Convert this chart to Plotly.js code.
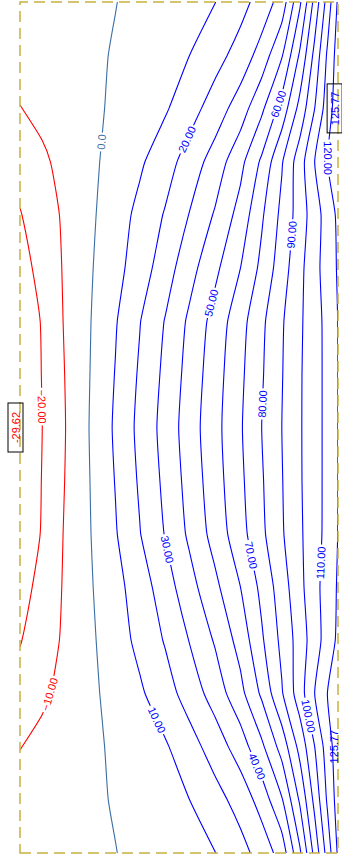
<!DOCTYPE html>
<html>
<head>
<meta charset="utf-8">
<script src="https://cdn.plot.ly/plotly-3.0.1.min.js"></script>
<style>html,body{margin:0;padding:0;background:#fff;}#chart{width:342px;height:858px;}</style>
</head>
<body>
<div id="chart"></div>
<script>
// Slab grid coordinates (m)
var xCoords = [0, 0.21, 0.43, 0.66, 0.9, 1.13, 1.37, 1.6, 1.84, 2.08, 2.28, 2.47, 2.64, 2.78, 2.9, 3.0];
var yCoords = [0, 0.5, 1, 1.5, 2, 2.5, 3, 3.5, 4, 4.5, 5, 5.5, 6, 6.5, 7, 7.5, 8];

// Field values
var row0 = [-7.5, -5.8, -3.9, -2.1, -0.2, 2.3, 4.8, 7.3, 9.8, 16.6, 24.0, 34.2, 58.3, 83.3, 104, 121.5];
var row1 = [-8.5, -6.4, -4.1, -1.8, 0.7, 3.8, 6.9, 10.0, 16.3, 24.0, 34.1, 49.1, 71.4, 92.9, 111.4, 124.5];
var row2 = [-10.1, -7.4, -4.7, -1.9, 1.4, 5.2, 8.9, 16.0, 24.6, 35.0, 48.0, 64.0, 83.3, 100.0, 115.0, 125.77];
var row3 = [-16.5, -11.7, -6.8, -2.0, 3.2, 8.5, 15.8, 24.4, 34.3, 47.1, 61.7, 79.1, 95.5, 110.0, 120.0, 125.0];
var row4 = [-20.5, -14.7, -8.3, -1.7, 5.3, 12.6, 20.8, 30.4, 41.0, 53.8, 68.6, 82.5, 94.6, 105.7, 114.3, 122.0];
var row5 = [-24.0, -16.7, -8.7, -1.0, 6.9, 14.8, 25.4, 36.4, 47.7, 60.0, 72.5, 85.3, 97.3, 106.9, 114.4, 121.0];
var row6 = [-28.7, -19.1, -8.9, -0.4, 9.2, 19.6, 30.5, 41.9, 53.8, 66.3, 77.9, 88.9, 98.4, 106.3, 112.8, 120.2];
var row7 = [-29.2, -19.6, -9.6, 0.0, 10.4, 21.3, 32.3, 43.8, 55.7, 68.0, 79.0, 89.5, 98.9, 106.5, 112.5, 120.1];
var row8 = [-29.62, -20.0, -10.0, 0.4, 11.4, 22.6, 33.6, 45.2, 56.7, 69.0, 80.0, 90.0, 99.0, 106.5, 112.5, 120.1];
var zValues = [row0, row1, row2, row3, row4, row5, row6, row7, row8, row7, row6, row5, row4, row3, row2, row1, row0];

var negLevels = {start: -20, end: -10, size: 10};
var zeroLevels = {start: 0, end: 5, size: 10};
var posLevels = {start: 10, end: 120, size: 10};

var FONT = 'Liberation Sans, Arial, sans-serif';

function contourTrace(levels, color, fmt) {
  return {
    type: 'contour', x: xCoords, y: yCoords, z: zValues,
    autocontour: false,
    contours: {coloring: 'none', start: levels.start, end: levels.end, size: levels.size,
      showlabels: true, labelformat: fmt, labelfont: {family: FONT, size: 11, color: color}},
    line: {color: color, width: 1.1, smoothing: 0.6},
    showscale: false, hoverinfo: 'skip'
  };
}

var traces = [
  contourTrace(negLevels, '#ff0000', '.2f'),
  contourTrace(zeroLevels, '#3b6ea5', '.1f'),
  contourTrace(posLevels, '#0000ff', '.2f')
];

// extreme values from data
var zMin = Infinity, zMax = -Infinity, minPos = null, maxPos = [];
zValues.forEach(function (r, i) {
  r.forEach(function (v, j) {
    if (v < zMin) { zMin = v; minPos = [xCoords[j], yCoords[i]]; }
    if (v > zMax) { zMax = v; }
  });
});
zValues.forEach(function (r, i) {
  r.forEach(function (v, j) { if (v === zMax) maxPos.push([xCoords[j], yCoords[i]]); });
});

var annotations = [{
  x: minPos[0], y: minPos[1], xref: 'x', yref: 'y', xshift: -5,
  text: zMin.toFixed(2), showarrow: false, textangle: -90,
  font: {family: FONT, size: 11, color: '#ff0000'},
  bordercolor: '#000', borderwidth: 1, borderpad: 1, width: 46, height: 12, bgcolor: 'rgba(255,255,255,0)'
}];
maxPos.forEach(function (p, k) {
  annotations.push({
    x: p[0], y: p[1], xref: 'x', yref: 'y', xshift: k === 0 ? -3 : -4,
    text: zMax.toFixed(2), showarrow: false, textangle: -90,
    font: {family: FONT, size: 11, color: '#0000ff'},
    bordercolor: k === 0 ? '#000' : 'rgba(0,0,0,0)', borderwidth: 1, borderpad: 1, width: 46, height: 12
  });
});

var layout = {
  width: 342, height: 858,
  margin: {l: 20, r: 4, t: 2, b: 5},
  paper_bgcolor: '#fff', plot_bgcolor: '#fff',
  showlegend: false,
  xaxis: {range: [0, 3], visible: false, fixedrange: true},
  yaxis: {range: [8, 0], visible: false, fixedrange: true},
  shapes: [{type: 'rect', xref: 'paper', yref: 'paper', x0: 0, x1: 1, y0: 0, y1: 1,
    line: {color: '#c8b040', width: 1.5, dash: '11px,6px'}, layer: 'above'}],
  annotations: annotations
};

Plotly.newPlot('chart', traces, layout, {staticPlot: true, displayModeBar: false});
</script>
</body>
</html>
